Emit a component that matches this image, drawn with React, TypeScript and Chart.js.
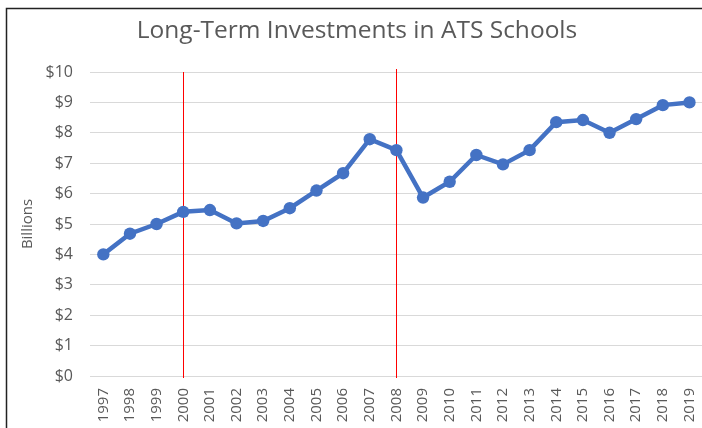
import React, { useEffect, useRef } from 'react';
import { Chart, registerables } from 'chart.js';

Chart.register(...registerables);

const years = ['1997', '1998', '1999', '2000', '2001', '2002', '2003', '2004', '2005', '2006', '2007', '2008', '2009', '2010', '2011', '2012', '2013', '2014', '2015', '2016', '2017', '2018', '2019'];
const investments = [4.0, 4.68, 5.0, 5.4, 5.46, 5.02, 5.1, 5.52, 6.1, 6.67, 7.79, 7.43, 5.87, 6.39, 7.27, 6.96, 7.43, 8.35, 8.42, 8.0, 8.45, 8.91, 9.0];
const markerYears = ['2000', '2008'];
const markerTopValues = [10, 10.1];
const yMin = 0;
const yMax = 10;
const yStep = 1;

const FONT = 'Open Sans';
const GREY = '#595959';
const CANVAS_W = 709;
const VIEW_W = 702;

const decorPlugin = {
  id: 'decor',
  beforeDatasetsDraw(chart: any) {
    const { ctx, chartArea, scales } = chart;
    ctx.save();
    ctx.fillStyle = 'rgb(255, 0, 0)';
    markerYears.forEach((yr, i) => {
      const idx = years.indexOf(yr);
      const x = Math.round(scales.x.getPixelForValue(idx));
      const top = Math.round(scales.y.getPixelForValue(markerTopValues[i]));
      ctx.fillRect(x, top, 1, chartArea.bottom + 2 - top);
    });
    ctx.restore();
  },
  afterDraw(chart: any) {
    const { ctx, height } = chart;
    ctx.save();
    ctx.strokeStyle = '#222222';
    ctx.lineWidth = 1.5;
    ctx.beginPath();
    ctx.moveTo(6.5, height);
    ctx.lineTo(6.5, 8.5);
    ctx.lineTo(VIEW_W, 8.5);
    ctx.stroke();
    ctx.restore();
  },
};

export default function App() {
  const ref = useRef<HTMLCanvasElement | null>(null);
  useEffect(() => {
    if (!ref.current) return;
    const chart = new Chart(ref.current, {
      type: 'line',
      data: {
        labels: years,
        datasets: [
          {
            label: 'Long-Term Investments',
            data: investments,
            borderColor: '#4472C4',
            backgroundColor: '#4472C4',
            borderWidth: 4.5,
            pointRadius: 6.2,
            pointHoverRadius: 6.2,
            pointBorderWidth: 0,
            tension: 0,
          },
        ],
      },
      options: {
        responsive: false,
        animation: false,
        devicePixelRatio: 1,
        layout: { padding: { left: 5, right: 0, top: 0, bottom: 0 } },
        plugins: {
          legend: { display: false },
          tooltip: { enabled: false },
          title: {
            display: true,
            text: 'Long-Term Investments in ATS Schools',
            color: GREY,
            font: { family: FONT, size: 24.5, weight: 'normal', lineHeight: 1.2 },
            padding: { top: 16, bottom: 26.6 },
          },
        },
        scales: {
          x: {
            type: 'category',
            offset: true,
            grid: { display: false, drawTicks: false },
            border: { display: false },
            ticks: {
              color: GREY,
              font: { family: FONT, size: 15 },
              minRotation: 90,
              maxRotation: 90,
              autoSkip: false,
              padding: 12,
            },
            afterFit(scale: any) {
              scale.height = 52;
              scale.paddingLeft = 0;
              scale.paddingRight = 0;
            },
          },
          y: {
            min: yMin,
            max: yMax,
            grid: { color: '#d9d9d9', lineWidth: 1, drawTicks: false },
            border: { display: false },
            ticks: {
              stepSize: yStep,
              color: GREY,
              font: { family: FONT, size: 16 },
              padding: 17,
              callback: (v: any) => '$' + v,
            },
            title: {
              display: true,
              text: 'Billions',
              color: GREY,
              font: { family: FONT, size: 15 },
              padding: { top: 14, bottom: 0 },
            },
            afterFit(scale: any) {
              scale.width = 85;
            },
          },
        },
      },
      plugins: [decorPlugin],
    });
    return () => chart.destroy();
  }, []);
  return (
    <div style={{ position: 'fixed', left: 0, top: 0, width: VIEW_W, height: 428, overflow: 'hidden', background: '#fff' }}>
      <canvas ref={ref} width={CANVAS_W} height={428} style={{ display: 'block' }} />
    </div>
  );
}
